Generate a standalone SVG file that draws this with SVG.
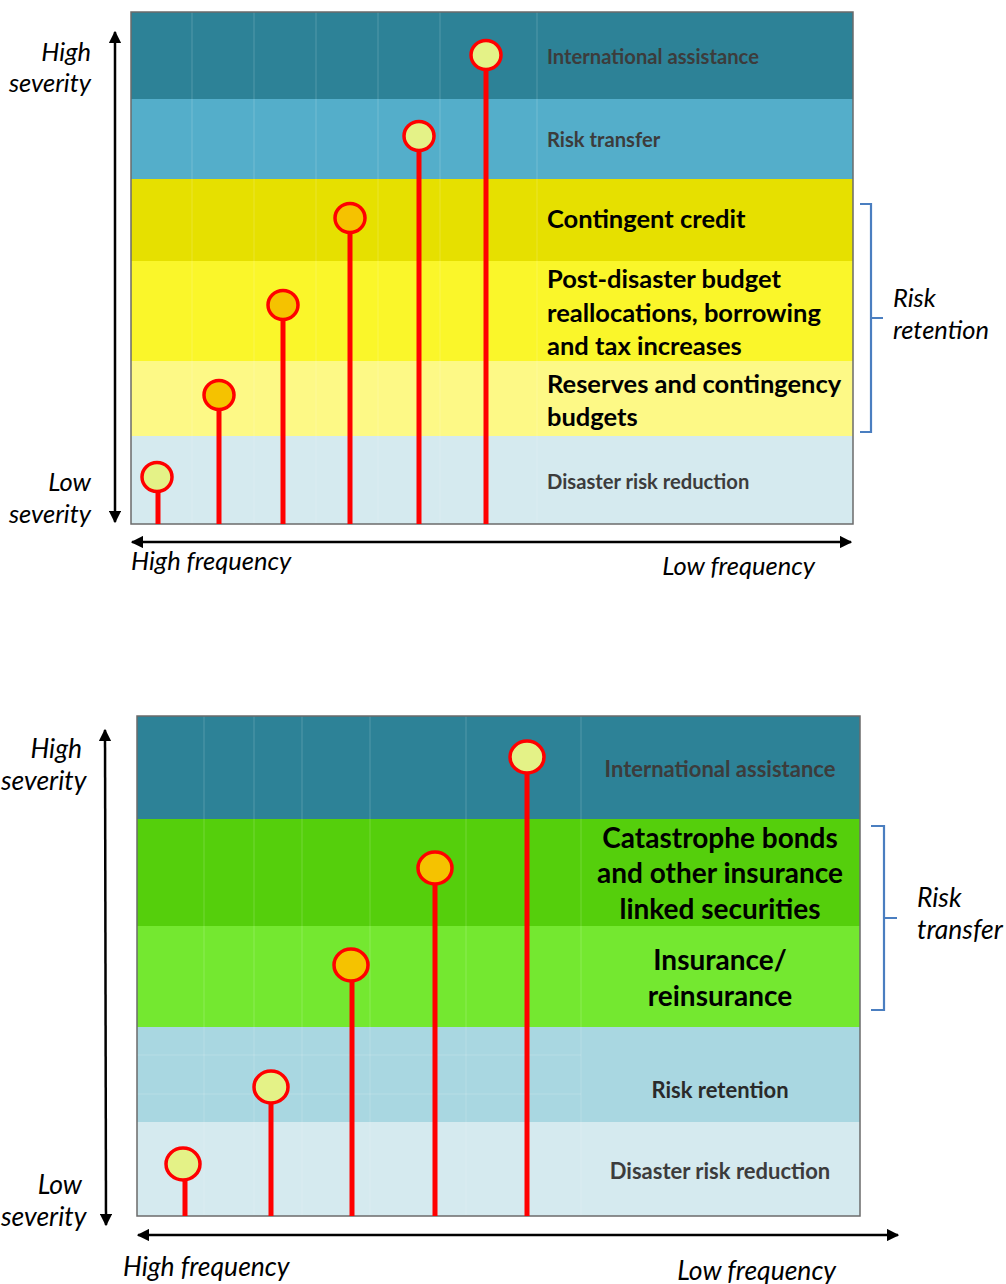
<svg xmlns="http://www.w3.org/2000/svg" width="1006" height="1284" viewBox="0 0 1006 1284">
<style>
.ax{font-family:Lato,"Open Sans",sans-serif;font-style:italic;font-size:25.5px;fill:#000}
.ax2{font-family:Lato,"Open Sans",sans-serif;font-style:italic;font-size:26.5px;fill:#000}
.g{font-family:Lato,"Open Sans",sans-serif;font-weight:bold;font-size:20.2px;fill:#3c3c3c}
.g2{font-family:Lato,"Open Sans",sans-serif;font-weight:bold;font-size:22px;fill:#3c3c3c}
.b{font-family:Lato,"Open Sans",sans-serif;font-weight:bold;font-size:25.5px;fill:#000}
.b2{font-family:Lato,"Open Sans",sans-serif;font-weight:bold;font-size:28px;fill:#000}
.grid{stroke:#ffffff;stroke-opacity:0.18;stroke-width:1}
.frame{fill:none;stroke:#6b6b6b;stroke-width:1.5}
.stem{stroke:#ff0000;stroke-width:5}
.pin{stroke:#ff0000;stroke-width:3.5}
.ly{fill:#e4f287}
.or{fill:#f5c200}
.arr{stroke:#000;stroke-width:2.5;fill:none}
.br{stroke:#4a7ec0;stroke-width:2.2;fill:none}
</style>
<defs>
<marker id="ah" viewBox="0 0 10 10" refX="9" refY="5" markerWidth="5" markerHeight="5" orient="auto-start-reverse" markerUnits="strokeWidth">
<path d="M0,0 L10,5 L0,10 z" fill="#000"/>
</marker>
</defs>

<g id="chart1">
<g id="bands1">
<rect x="131" y="12" width="722" height="87" fill="#2d8297"/>
<rect x="131" y="99" width="722" height="80" fill="#54aeca"/>
<rect x="131" y="179" width="722" height="82" fill="#e6e000"/>
<rect x="131" y="261" width="722" height="100" fill="#faf62a"/>
<rect x="131" y="361" width="722" height="75" fill="#fdf986"/>
<rect x="131" y="436" width="722" height="88" fill="#d5eaef"/>
<g class="grid">
<line x1="192" y1="12" x2="192" y2="524"/><line x1="254" y1="12" x2="254" y2="524"/>
<line x1="316" y1="12" x2="316" y2="524"/><line x1="378" y1="12" x2="378" y2="524"/>
<line x1="440" y1="12" x2="440" y2="524"/><line x1="537" y1="12" x2="537" y2="524"/>
</g>
<rect class="frame" x="131" y="12" width="722" height="512"/>
</g>
<g id="labels1">
<text class="g" x="547" y="64">International assistance</text>
<text class="g" x="547" y="147">Risk transfer</text>
<text class="b" x="547" y="228">Contingent credit</text>
<text class="b" x="547" y="288">Post-disaster budget</text>
<text class="b" x="547" y="322">reallocations, borrowing</text>
<text class="b" x="547" y="355">and tax increases</text>
<text class="b" x="547" y="393">Reserves and contingency</text>
<text class="b" x="547" y="426">budgets</text>
<text class="g" x="547" y="489">Disaster risk reduction</text>
</g>
<g id="pins1">
<line class="stem" x1="486" y1="70" x2="486" y2="524"/><ellipse class="pin ly" cx="486" cy="55" rx="15" ry="14.5"/>
<line class="stem" x1="419" y1="151" x2="419" y2="524"/><ellipse class="pin ly" cx="419" cy="136" rx="15" ry="14.5"/>
<line class="stem" x1="350" y1="233" x2="350" y2="524"/><ellipse class="pin or" cx="350" cy="218" rx="15" ry="14.5"/>
<line class="stem" x1="283" y1="320" x2="283" y2="524"/><ellipse class="pin or" cx="283" cy="305" rx="15" ry="14.5"/>
<line class="stem" x1="219" y1="410" x2="219" y2="524"/><ellipse class="pin or" cx="219" cy="395" rx="15" ry="14.5"/>
<line class="stem" x1="158" y1="492" x2="158" y2="524"/><ellipse class="pin ly" cx="157" cy="477" rx="15" ry="14.5"/>
</g>
<g id="axes1">
<line class="arr" x1="115" y1="522" x2="115" y2="32" marker-start="url(#ah)" marker-end="url(#ah)"/>
<line class="arr" x1="132" y1="542" x2="851" y2="542" marker-start="url(#ah)" marker-end="url(#ah)"/>
<text class="ax" x="91" y="61" text-anchor="end">High</text>
<text class="ax" x="91" y="92" text-anchor="end">severity</text>
<text class="ax" x="91" y="491" text-anchor="end">Low</text>
<text class="ax" x="91" y="523" text-anchor="end">severity</text>
<text class="ax" x="131" y="570">High frequency</text>
<text class="ax" x="815" y="575" text-anchor="end">Low frequency</text>
</g>
<g id="bracket1">
<path class="br" d="M860,204 H871 V318 H883 M871,318 V432 H860"/>
<text class="ax" x="893" y="307">Risk</text>
<text class="ax" x="893" y="339">retention</text>
</g>
</g>

<g id="chart2">
<g id="bands2">
<rect x="137" y="716" width="723" height="103" fill="#2d8297"/>
<rect x="137" y="819" width="723" height="107" fill="#55cf0c"/>
<rect x="137" y="926" width="723" height="101" fill="#74e830"/>
<rect x="137" y="1027" width="723" height="95" fill="#a9d7e1"/>
<rect x="137" y="1122" width="723" height="94" fill="#d5eaef"/>
<g class="grid">
<line x1="204" y1="716" x2="204" y2="1216"/><line x1="254" y1="716" x2="254" y2="1216"/>
<line x1="302" y1="716" x2="302" y2="1216"/><line x1="370" y1="716" x2="370" y2="1216"/>
<line x1="466" y1="716" x2="466" y2="1216"/><line x1="581" y1="716" x2="581" y2="1216"/>
<line x1="137" y1="1055" x2="581" y2="1055"/><line x1="137" y1="1094" x2="581" y2="1094"/>
</g>
<rect class="frame" x="137" y="716" width="723" height="500"/>
</g>
<g id="labels2">
<text class="g2" x="720" y="777" text-anchor="middle">International assistance</text>
<text class="b2" x="720" y="848" text-anchor="middle">Catastrophe bonds</text>
<text class="b2" x="720" y="883" text-anchor="middle">and other insurance</text>
<text class="b2" x="720" y="919" text-anchor="middle">linked securities</text>
<text class="b2" x="720" y="970" text-anchor="middle">Insurance/</text>
<text class="b2" x="720" y="1006" text-anchor="middle">reinsurance</text>
<text class="g2" x="720" y="1098" text-anchor="middle" style="fill:#2a2a2a">Risk retention</text>
<text class="g2" x="720" y="1179" text-anchor="middle">Disaster risk reduction</text>
</g>
<g id="pins2">
<line class="stem" x1="527" y1="773" x2="527" y2="1216"/><ellipse class="pin ly" cx="527" cy="757" rx="17" ry="16"/>
<line class="stem" x1="435" y1="884" x2="435" y2="1216"/><ellipse class="pin or" cx="435" cy="868" rx="17" ry="16"/>
<line class="stem" x1="352" y1="981" x2="352" y2="1216"/><ellipse class="pin or" cx="351" cy="965" rx="17" ry="16"/>
<line class="stem" x1="271" y1="1103" x2="271" y2="1216"/><ellipse class="pin ly" cx="271" cy="1087" rx="17" ry="16"/>
<line class="stem" x1="185" y1="1180" x2="185" y2="1216"/><ellipse class="pin ly" cx="183" cy="1164" rx="17" ry="16"/>
</g>
<g id="axes2">
<line class="arr" x1="106" y1="1225" x2="105" y2="730" marker-start="url(#ah)" marker-end="url(#ah)"/>
<line class="arr" x1="138" y1="1235" x2="898" y2="1235" marker-start="url(#ah)" marker-end="url(#ah)"/>
<text class="ax2" x="82" y="758" text-anchor="end">High</text>
<text class="ax2" x="1" y="790">severity</text>
<text class="ax2" x="82" y="1194" text-anchor="end">Low</text>
<text class="ax2" x="1" y="1226">severity</text>
<text class="ax2" x="123" y="1276">High frequency</text>
<text class="ax2" x="836" y="1280" text-anchor="end">Low frequency</text>
</g>
<g id="bracket2">
<path class="br" d="M871,826 H884 V918 H897 M884,918 V1010 H871"/>
<text class="ax2" x="917" y="907">Risk</text>
<text class="ax2" x="917" y="939">transfer</text>
</g>
</g>
</svg>
